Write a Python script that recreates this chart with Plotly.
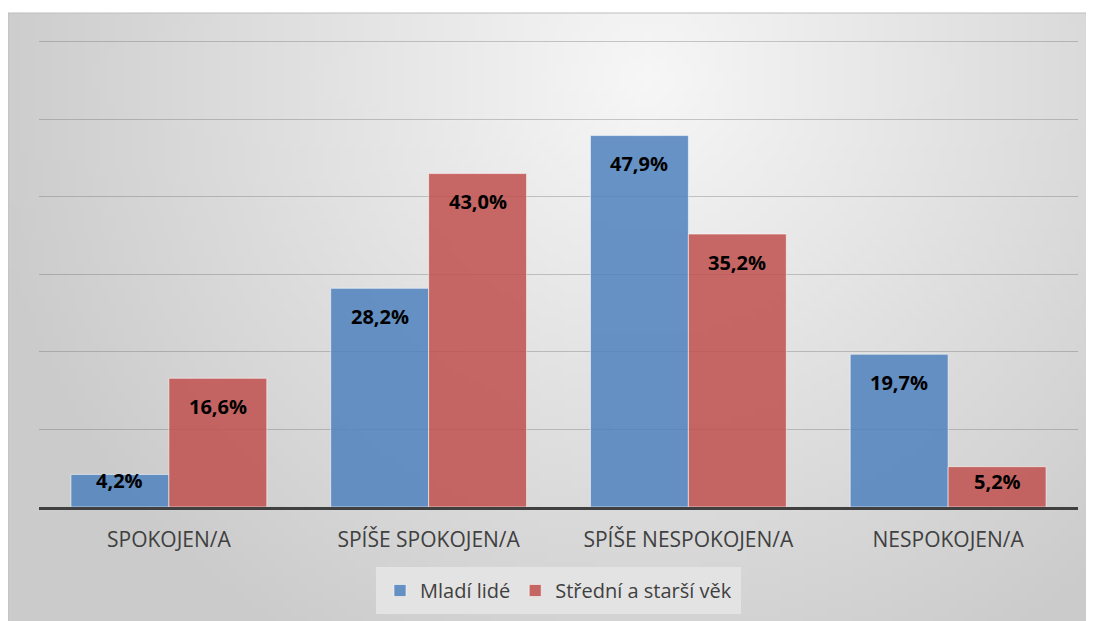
import base64
import struct
import zlib

import plotly.graph_objects as go

categories = ["SPOKOJEN/A", "SPÍŠE SPOKOJEN/A", "SPÍŠE NESPOKOJEN/A", "NESPOKOJEN/A"]
mladi = [4.2, 28.2, 47.9, 19.7]
stredni = [16.6, 43.0, 35.2, 5.2]
series_names = ["Mladí lidé", "Střední a starší věk"]

# page body adds an 8px offset, so the figure is laid out 8px up/left
W, H = 1094, 621
ML, MR, MT, MB = 31, 24, 26, 122
Y_TOP = 61  # a little headroom so the 60 gridline is drawn


def gradient_png(w=137, h=76):
    # soft radial grey background, light near top centre
    cx, cy, rx, ry = 0.58 * w, 0.10 * h, 0.62 * w, 1.1 * h
    rows = b""
    for j in range(h):
        row = b"\x00"
        for i in range(w):
            d = min(1.0, (((i - cx) / rx) ** 2 + ((j - cy) / ry) ** 2) ** 0.5)
            v = int(247 - 44 * d)
            row += bytes([v])
        rows += row

    def chunk(tag, data):
        c = struct.pack(">I", len(data)) + tag + data
        return c + struct.pack(">I", zlib.crc32(tag + data) & 0xFFFFFFFF)

    png = b"\x89PNG\r\n\x1a\n"
    png += chunk(b"IHDR", struct.pack(">IIBBBBB", w, h, 8, 0, 0, 0, 0))
    png += chunk(b"IDAT", zlib.compress(rows))
    png += chunk(b"IEND", b"")
    return "data:image/png;base64," + base64.b64encode(png).decode()


def fmt(v):
    return f"{v:.1f}%".replace(".", ",")


pw, ph = W - ML - MR, H - MT - MB
px_per_unit = ph / Y_TOP

fig = go.Figure()
fig.add_trace(
    go.Bar(
        x=categories,
        y=mladi,
        name=series_names[0],
        marker=dict(color="rgba(79,129,189,0.85)", line=dict(color="rgba(255,255,255,0.55)", width=1)),
    )
)
fig.add_trace(
    go.Bar(
        x=categories,
        y=stredni,
        name=series_names[1],
        marker=dict(color="rgba(192,80,77,0.85)", line=dict(color="rgba(255,255,255,0.55)", width=1)),
    )
)

# data labels inside the top of each bar (pushed up on short bars)
for vals, shift in [(mladi, -49), (stredni, 49)]:
    for cat, v in zip(categories, vals):
        fig.add_annotation(
            x=cat,
            y=v,
            xref="x",
            yref="y",
            text=fmt(v),
            showarrow=False,
            xshift=shift,
            yshift=-min(28, v * px_per_unit - 26),
            font=dict(family="Open Sans", size=20, color="black", weight="bold"),
        )

fig.add_layout_image(
    source=gradient_png(),
    xref="paper",
    yref="paper",
    x=-ML / pw,
    y=1 + (MT - 5) / ph,
    sizex=W / pw,
    sizey=(H - 5) / ph,
    xanchor="left",
    yanchor="top",
    sizing="stretch",
    layer="below",
)
fig.add_shape(
    type="rect",
    xref="paper",
    yref="paper",
    x0=-ML / pw,
    x1=1 + (MR + 5) / pw,
    y0=-(MB + 5) / ph,
    y1=1 + (MT - 5) / ph,
    line=dict(color="#bdbdbd", width=1),
    layer="below",
)

fig.update_layout(
    width=W,
    height=H,
    margin=dict(l=ML, r=MR, t=MT, b=MB, autoexpand=False),
    paper_bgcolor="white",
    plot_bgcolor="rgba(0,0,0,0)",
    barmode="group",
    bargap=0.246,
    bargroupgap=0,
    font=dict(family="Open Sans", color="#404040"),
    showlegend=True,
    legend=dict(
        orientation="h",
        x=0.5,
        xanchor="center",
        y=-(559 - (H - MB)) / ph,
        yanchor="top",
        bgcolor="#e3e3e3",
        bordercolor="#e3e3e3",
        borderwidth=4,
        font=dict(size=20, color="#404040"),
        itemwidth=30,
        traceorder="normal",
    ),
    xaxis=dict(
        showline=True,
        linecolor="#404040",
        linewidth=3,
        showgrid=False,
        ticks="",
        tickfont=dict(size=21, color="#404040"),
        ticklabelstandoff=12,
    ),
    yaxis=dict(
        range=[0, Y_TOP],
        dtick=10,
        showticklabels=False,
        showgrid=True,
        gridcolor="rgba(90,90,90,0.3)",
        gridwidth=1,
        zeroline=False,
        fixedrange=True,
    ),
)

fig.write_html("out.html")
